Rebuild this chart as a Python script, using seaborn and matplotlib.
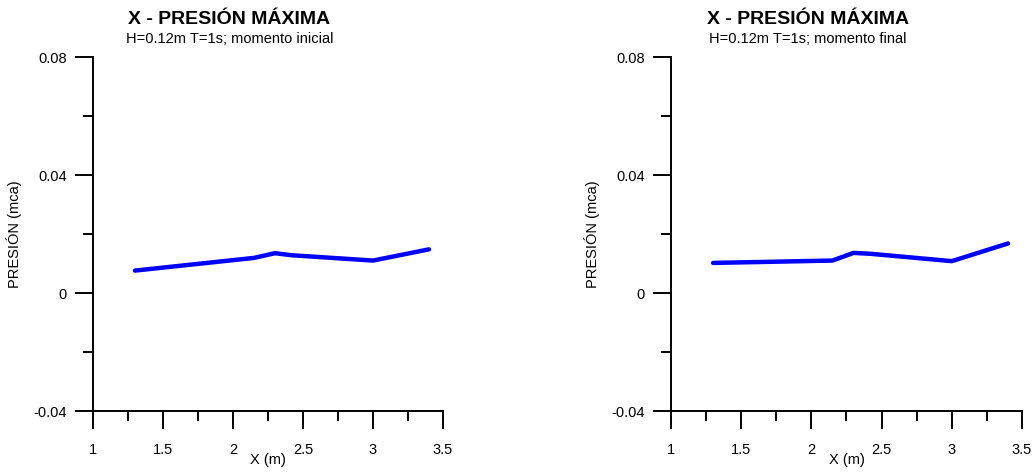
import matplotlib
matplotlib.use("Agg")
import matplotlib.pyplot as plt
import seaborn as sns
import pandas as pd
from matplotlib.ticker import MultipleLocator

# -------------------------------
# Data
# -------------------------------
x_inicial = [1.3, 2.15, 2.3, 2.42, 3.0, 3.4]
p_inicial = [0.0076, 0.0119, 0.0135, 0.0128, 0.0110, 0.0148]

x_final = [1.3, 2.15, 2.3, 2.42, 3.0, 3.4]
p_final = [0.0102, 0.0110, 0.0136, 0.0133, 0.0108, 0.0168]

subtitles = ["H=0.12m T=1s; momento inicial", "H=0.12m T=1s; momento final"]
x_ticks = [1, 1.5, 2, 2.5, 3, 3.5]
x_tick_labels = ["1", "1.5", "2", "2.5", "3", "3.5"]
y_ticks = [-0.04, 0, 0.04, 0.08]
y_tick_labels = ["-0.04", "0", "0.04", "0.08"]

sns.set_style("white")
plt.rcParams['font.family'] = ['Liberation Sans', 'DejaVu Sans']
plt.rcParams['text.color'] = 'black'
plt.rcParams['axes.labelcolor'] = 'black'
plt.rcParams['xtick.color'] = 'black'
plt.rcParams['ytick.color'] = 'black'

fig = plt.figure(figsize=(10.34, 4.74), dpi=100)
positions = [[0.0899, 0.1329, 0.3385, 0.7468], [0.6489, 0.1329, 0.3395, 0.7468]]
series = [(x_inicial, p_inicial), (x_final, p_final)]

for pos, (xs, ps), sub in zip(positions, series, subtitles):
    ax = fig.add_axes(pos)
    df = pd.DataFrame({"x": xs, "p": ps})
    sns.lineplot(data=df, x="x", y="p", sort=False, color="#0000ff", linewidth=3.2, ax=ax)
    ax.set_xlim(1, 3.5)
    ax.set_ylim(-0.04, 0.08)
    ax.set_xticks(x_ticks)
    ax.set_xticklabels(x_tick_labels, fontsize=10.5)
    ax.set_yticks(y_ticks)
    ax.set_yticklabels(y_tick_labels, fontsize=10.5)
    ax.xaxis.set_minor_locator(MultipleLocator(0.25))
    ax.yaxis.set_minor_locator(MultipleLocator(0.02))
    ax.tick_params(which="major", direction="out", length=13, width=1.4, color="black")
    ax.tick_params(axis="x", which="major", pad=10)
    ax.tick_params(axis="y", which="major", pad=6)
    ax.tick_params(which="minor", direction="out", length=7, width=1.4, color="black")
    ax.tick_params(axis="both", which="both", left=True, bottom=True)
    for side in ["top", "right"]:
        ax.spines[side].set_visible(False)
    for side in ["left", "bottom"]:
        ax.spines[side].set_color("black")
        ax.spines[side].set_linewidth(1.4)
    ax.set_xlabel("X (m)", fontsize=10.5, labelpad=-3)
    ax.set_ylabel("PRESIÓN (mca)", fontsize=10.5, labelpad=8)
    ax.text(0.39, 1.107, "X - PRESIÓN MÁXIMA", transform=ax.transAxes, ha="center", va="center",
            fontsize=14, fontweight="bold")
    ax.text(0.39, 1.052, sub, transform=ax.transAxes, ha="center", va="center", fontsize=10.5)

plt.savefig("out.png", dpi=100)
